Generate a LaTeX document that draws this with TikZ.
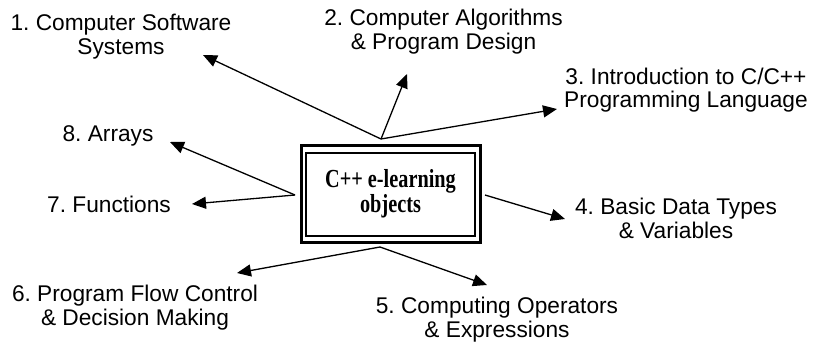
\documentclass[tikz,border=0pt]{standalone}
\usepackage{fontspec}
\setmainfont{Liberation Sans}
\newfontfamily\boxserif{Liberation Serif}[FakeStretch=0.78]
\usetikzlibrary{arrows.meta}
\frenchspacing
\begin{document}
\begin{tikzpicture}[x=1pt, y=-1pt,
  topic/.style={font=\fontsize{22.7}{24}\selectfont, align=center, inner sep=0pt, anchor=base},
  link/.style={line width=1.3pt, -{Triangle[length=14pt, width=12pt]}},
  corebox/.style={draw, line width=3pt, minimum width=179pt, minimum height=97pt,
    inner sep=0pt, outer sep=0pt, align=center,
    font=\boxserif\bfseries\fontsize{26}{21.5}\selectfont}
]
\useasboundingbox (0,0) rectangle (815,345);

% central box with its inner frame
\node[corebox] (core) at (390.5,194) {C++ e-learning\\objects};
\draw[line width=2pt] ([shift={(5,7)}]core.north west) rectangle ([shift={(-5,-7)}]core.south east);

% topic labels (anchored on the baseline of their last line)
\node[topic] (lab1) at (121,55)  {1. Computer Software\\Systems};
\node[topic] (lab2) at (443.5,50) {2. Computer Algorithms\\\& Program Design};
\node[topic] (lab3) at (686,108) {3. Introduction to C/C++\\Programming Language};
\node[topic] (lab4) at (676,238) {4. Basic Data Types\\\& Variables};
\node[topic] (lab5) at (497,337) {5. Computing Operators\\\& Expressions};
\node[topic] (lab6) at (135,325) {6. Program Flow Control\\\& Decision Making};
\node[topic] (lab7) at (109,212) {7. Functions};
\node[topic] (lab8) at (108,142) {8. Arrays};

% fan-out points around the box
\coordinate (top)    at (381,139);
\coordinate (left)   at (295,195);
\coordinate (right)  at (485,195);
\coordinate (bottom) at (380,247);

% arrow tips next to the labels
\coordinate (t1) at (203,55);
\coordinate (t2) at (407,74);
\coordinate (t3) at (557,109);
\coordinate (t4) at (565,219);
\coordinate (t5) at (487,285);
\coordinate (t6) at (237,273);
\coordinate (t7) at (192,204);
\coordinate (t8) at (170,142);

\draw[link] (top) -- (t1);
\draw[link] (top) -- (t2);
\draw[link] (top) -- (t3);
\draw[link] (right) -- (t4);
\draw[link] (bottom) -- (t5);
\draw[link] (bottom) -- (t6);
\draw[link] (left) -- (t7);
\draw[link] (left) -- (t8);
\end{tikzpicture}
\end{document}
